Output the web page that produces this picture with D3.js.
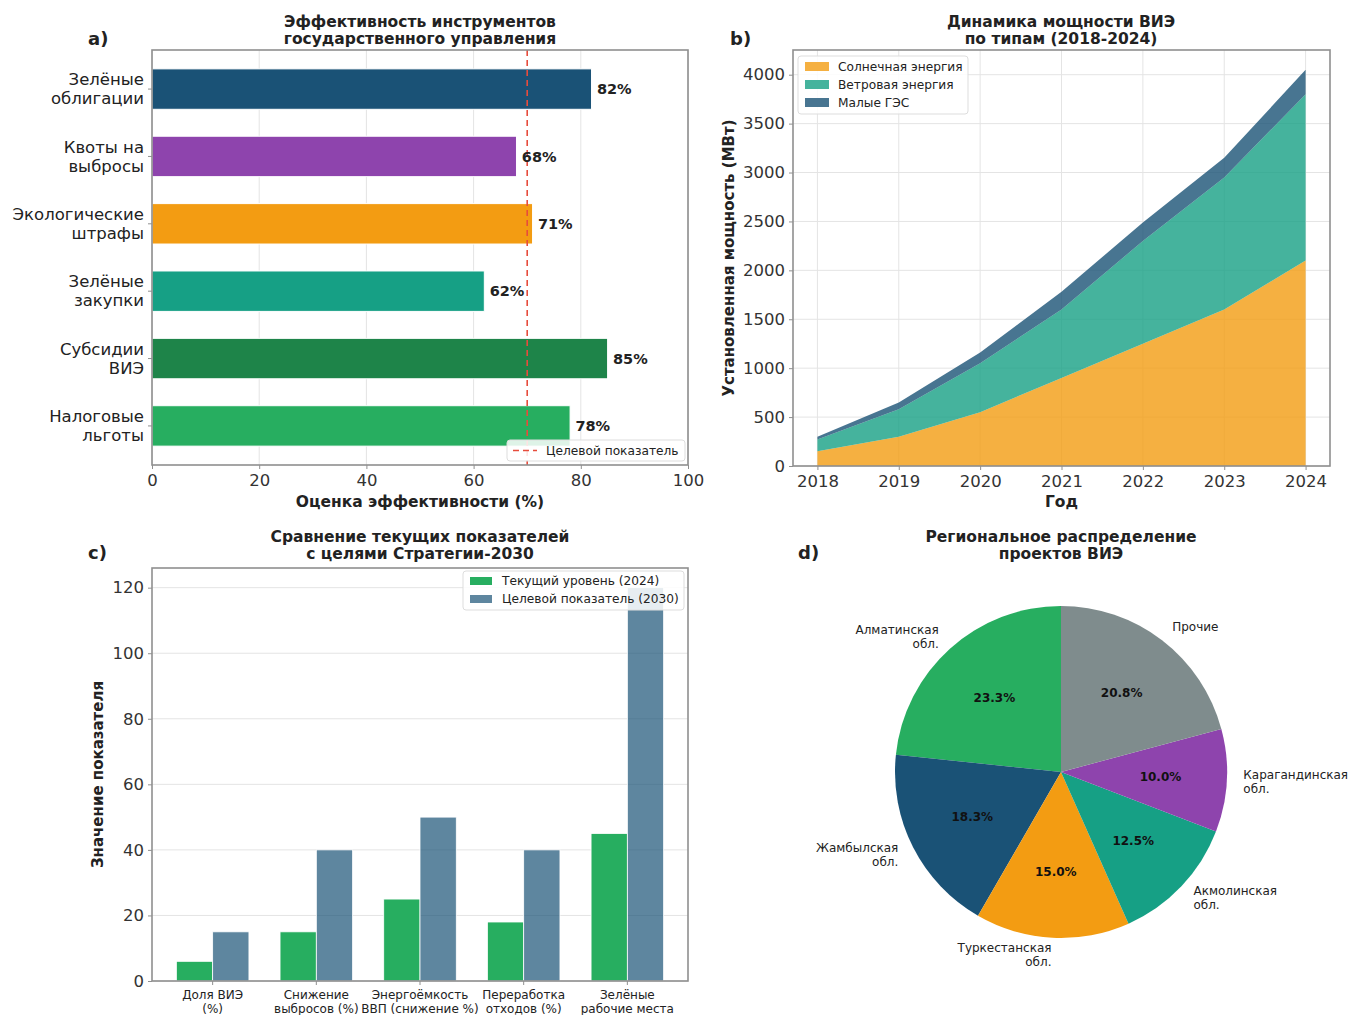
<!DOCTYPE html>
<html><head><meta charset="utf-8">
<script src="https://cdn.jsdelivr.net/npm/d3@7"></script>
<style>
body{margin:0;background:#fff;}
text{font-family:"DejaVu Sans",sans-serif;fill:#222;}
</style></head>
<body><svg id="c" width="1354" height="1015"></svg>
<script>
// ---------- DATA ----------
const instruments = ["Зелёные\nоблигации","Квоты на\nвыбросы","Экологические\nштрафы","Зелёные\nзакупки","Субсидии\nВИЭ","Налоговые\nльготы"];
const instrumentScores = [82,68,71,62,85,78];
const instrumentColors = ["#1a5276","#8e44ad","#f39c12","#16a085","#1e8449","#27ae60"];
const targetScore = 70;
const xTicksA = [0,20,40,60,80,100];

const years = [2018,2019,2020,2021,2022,2023,2024];
const solar = [150,300,550,900,1250,1600,2100];
const wind  = [120,280,500,700,1050,1350,1700];
const hydro = [30,70,110,180,190,200,250];
const seriesNames = ["Солнечная энергия","Ветровая энергия","Малые ГЭС"];
const seriesColors = ["#f39c12","#16a085","#1a5276"];
const yTicksB = [0,500,1000,1500,2000,2500,3000,3500,4000];

const indicators = ["Доля ВИЭ\n(%)","Снижение\nвыбросов (%)","Энергоёмкость\nВВП (снижение %)","Переработка\nотходов (%)","Зелёные\nрабочие места"];
const current2024 = [6,15,25,18,45];
const target2030 = [15,40,50,40,120];
const yTicksC = [0,20,40,60,80,100,120];

const regions = ["Алматинская\nобл.","Жамбылская\nобл.","Туркестанская\nобл.","Акмолинская\nобл.","Карагандинская\nобл.","Прочие"];
const regionProjects = [28,22,18,15,12,25];
const regionColors = ["#27ae60","#1a5276","#f39c12","#16a085","#8e44ad","#7f8c8d"];

// ---------- HELPERS ----------
const svg = d3.select("#c");
const SPINE = "#8f8f8f", GRID = "#e4e4e4";
const TICK = 16.5, TITLE = 15.5, LABEL = 15.5, LEG = 12.2;
function multiText(g, x, y, str, opts){
  const lines = str.split("\n");
  const lh = opts.lh || opts.size*1.2;
  const t = g.append("text").attr("x",x).attr("y",y)
    .attr("font-size",opts.size).attr("text-anchor",opts.anchor||"middle")
    .attr("font-weight",opts.weight||"normal");
  let off;
  if(opts.va==="center") off = -(lines.length-1)*lh/2;
  else if(opts.va==="top") off = 0;
  else off = -(lines.length-1)*lh;
  lines.forEach((l,i)=>t.append("tspan").attr("x",x).attr("y",y+off+i*lh).attr("dy", opts.va==="center"?"0.35em":(opts.va==="top"?"0.8em":0)).text(l));
  return t;
}
function frame(x0,y0,x1,y1){
  svg.append("rect").attr("x",x0).attr("y",y0).attr("width",x1-x0).attr("height",y1-y0)
    .attr("fill","none").attr("stroke",SPINE).attr("stroke-width",1.6);
}
function panelLabel(x,y,s){ svg.append("text").attr("x",x).attr("y",y).attr("font-size",18).attr("font-weight","bold").text(s); }

// ---------- PANEL A ----------
{
  const L=152,R=688,T=50,B=465;
  const x = d3.scaleLinear().domain([0,100]).range([L,R]);
  const y = d3.scaleLinear().domain([-0.58,5.58]).range([T,B]);
  const g = svg.append("g");
  g.selectAll(".gx").data(xTicksA).join("line").attr("x1",d=>x(d)).attr("x2",d=>x(d)).attr("y1",T).attr("y2",B).attr("stroke",GRID);
  g.selectAll(".bar").data(instrumentScores).join("rect")
    .attr("x",x(0)).attr("y",(d,i)=>y(i-0.3)).attr("width",d=>x(d)-x(0)).attr("height",y(0.6)-y(0))
    .attr("fill",(d,i)=>instrumentColors[i]).attr("stroke","#fff").attr("stroke-width",1);
  g.append("line").attr("x1",x(targetScore)).attr("x2",x(targetScore)).attr("y1",T).attr("y2",B)
    .attr("stroke","#e74c3c").attr("stroke-width",1.6).attr("stroke-dasharray","6,4");
  g.selectAll(".vl").data(instrumentScores).join("text").attr("x",d=>x(d+1)).attr("y",(d,i)=>y(i)).attr("dy","0.35em")
    .attr("font-size",14.5).attr("font-weight","bold").text(d=>d+"%");
  frame(L,T,R,B);
  const ax = g.append("g").attr("transform",`translate(0,${B})`).call(d3.axisBottom(x).tickValues(xTicksA).tickSize(4).tickPadding(5));
  ax.select(".domain").remove(); ax.selectAll("line").attr("stroke",SPINE);
  ax.selectAll("text").attr("font-size",TICK).style("fill","#333").attr("font-family","DejaVu Sans");
  instruments.forEach((s,i)=>{
    g.append("line").attr("x1",L-4).attr("x2",L).attr("y1",y(i)).attr("y2",y(i)).attr("stroke",SPINE);
    multiText(g,L-8,y(i),s,{size:TICK,anchor:"end",va:"center",lh:19});
  });
  multiText(g,(L+R)/2,507,"Оценка эффективности (%)",{size:LABEL,weight:"bold"});
  multiText(g,(L+R)/2,44,"Эффективность инструментов\nгосударственного управления",{size:TITLE,weight:"bold",lh:17});
  panelLabel(88,45,"a)");
  // legend
  const lg = g.append("g");
  lg.append("rect").attr("x",507).attr("y",440).attr("width",178).attr("height",21).attr("rx",3).attr("fill","#fff").attr("fill-opacity",0.85).attr("stroke","#ddd");
  lg.append("line").attr("x1",513).attr("x2",537).attr("y1",450.5).attr("y2",450.5).attr("stroke","#e74c3c").attr("stroke-width",1.6).attr("stroke-dasharray","6,4");
  lg.append("text").attr("x",546).attr("y",450.5).attr("dy","0.35em").attr("font-size",LEG).text("Целевой показатель");
}

// ---------- PANEL B ----------
{
  const L=793,R=1330,T=50,B=466;
  const x = d3.scaleLinear().domain([2017.7,2024.3]).range([L,R]);
  const y = d3.scaleLinear().domain([0,4252.5]).range([B,T]);
  const g = svg.append("g");
  g.selectAll(".gx").data(years).join("line").attr("x1",d=>x(d)).attr("x2",d=>x(d)).attr("y1",T).attr("y2",B).attr("stroke",GRID);
  g.selectAll(".gy").data(yTicksB).join("line").attr("x1",L).attr("x2",R).attr("y1",d=>y(d)).attr("y2",d=>y(d)).attr("stroke",GRID);
  const rows = years.map((yr,i)=>({year:yr,s0:solar[i],s1:wind[i],s2:hydro[i]}));
  const stack = d3.stack().keys(["s0","s1","s2"])(rows);
  const area = d3.area().x(d=>x(d.data.year)).y0(d=>y(d[0])).y1(d=>y(d[1]));
  g.selectAll(".ar").data(stack).join("path").attr("d",area).attr("fill",(d,i)=>seriesColors[i]).attr("fill-opacity",0.8);
  frame(L,T,R,B);
  const ax = g.append("g").attr("transform",`translate(0,${B})`).call(d3.axisBottom(x).tickValues(years).tickFormat(d3.format("d")).tickSize(4).tickPadding(5));
  ax.select(".domain").remove(); ax.selectAll("line").attr("stroke",SPINE);
  ax.selectAll("text").attr("font-size",TICK).style("fill","#333");
  const ay = g.append("g").attr("transform",`translate(${L},0)`).call(d3.axisLeft(y).tickValues(yTicksB).tickFormat(d3.format("d")).tickSize(4).tickPadding(4));
  ay.select(".domain").remove(); ay.selectAll("line").attr("stroke",SPINE);
  ay.selectAll("text").attr("font-size",TICK).style("fill","#333");
  multiText(g,(L+R)/2,507,"Год",{size:LABEL,weight:"bold"});
  g.append("text").attr("transform",`translate(734,${(T+B)/2}) rotate(-90)`).attr("text-anchor","middle").attr("font-size",15).attr("font-weight","bold").text("Установленная мощность (МВт)");
  multiText(g,1061,44,"Динамика мощности ВИЭ\nпо типам (2018-2024)",{size:TITLE,weight:"bold",lh:17});
  panelLabel(730,45,"b)");
  const lg = g.append("g");
  lg.append("rect").attr("x",798).attr("y",56).attr("width",170).attr("height",58).attr("rx",3).attr("fill","#fff").attr("fill-opacity",0.85).attr("stroke","#ddd");
  seriesNames.forEach((s,i)=>{
    lg.append("rect").attr("x",805).attr("y",62+i*18).attr("width",24).attr("height",9).attr("fill",seriesColors[i]).attr("fill-opacity",0.8);
    lg.append("text").attr("x",838).attr("y",67+i*18).attr("dy","0.35em").attr("font-size",LEG).text(s);
  });
}

// ---------- PANEL C ----------
{
  const L=152,R=688,T=568,B=981;
  const x = d3.scaleLinear().domain([-0.585,4.585]).range([L,R]);
  const y = d3.scaleLinear().domain([0,126]).range([B,T]);
  const g = svg.append("g");
  g.selectAll(".gy").data(yTicksC).join("line").attr("x1",L).attr("x2",R).attr("y1",d=>y(d)).attr("y2",d=>y(d)).attr("stroke",GRID);
  const w=0.35;
  g.selectAll(".b1").data(current2024).join("rect").attr("x",(d,i)=>x(i-w)).attr("y",d=>y(d)).attr("width",x(w)-x(0)).attr("height",d=>y(0)-y(d)).attr("fill","#27ae60").attr("stroke","#fff").attr("stroke-width",0.8);
  g.selectAll(".b2").data(target2030).join("rect").attr("x",(d,i)=>x(i)).attr("y",d=>y(d)).attr("width",x(w)-x(0)).attr("height",d=>y(0)-y(d)).attr("fill","#1a5276").attr("fill-opacity",0.7).attr("stroke","#fff").attr("stroke-width",0.8);
  frame(L,T,R,B);
  const ay = g.append("g").attr("transform",`translate(${L},0)`).call(d3.axisLeft(y).tickValues(yTicksC).tickSize(4).tickPadding(4));
  ay.select(".domain").remove(); ay.selectAll("line").attr("stroke",SPINE);
  ay.selectAll("text").attr("font-size",TICK).style("fill","#333");
  indicators.forEach((s,i)=>{
    g.append("line").attr("x1",x(i)).attr("x2",x(i)).attr("y1",B).attr("y2",B+4).attr("stroke",SPINE);
    multiText(g,x(i),B+8,s,{size:12,va:"top",lh:14});
  });
  g.append("text").attr("transform",`translate(103,${(T+B)/2}) rotate(-90)`).attr("text-anchor","middle").attr("font-size",15).attr("font-weight","bold").text("Значение показателя");
  multiText(g,(L+R)/2,559,"Сравнение текущих показателей\nс целями Стратегии-2030",{size:TITLE,weight:"bold",lh:17});
  panelLabel(88,559,"c)");
  const lg = g.append("g");
  lg.append("rect").attr("x",463).attr("y",571).attr("width",221).attr("height",39).attr("rx",3).attr("fill","#fff").attr("fill-opacity",0.85).attr("stroke","#ddd");
  [["#27ae60",1,"Текущий уровень (2024)"],["#1a5276",0.7,"Целевой показатель (2030)"]].forEach((e,i)=>{
    lg.append("rect").attr("x",470).attr("y",577+i*18).attr("width",22).attr("height",8).attr("fill",e[0]).attr("fill-opacity",e[1]);
    lg.append("text").attr("x",502).attr("y",581+i*18).attr("dy","0.35em").attr("font-size",LEG).text(e[2]);
  });
}

// ---------- PANEL D ----------
{
  const cx=1061, cy=772, r=166;
  const g = svg.append("g").attr("transform",`translate(${cx},${cy})`);
  const pie = d3.pie().sort(null).startAngle(0).endAngle(-2*Math.PI);
  const arcs = pie(regionProjects);
  const total = d3.sum(regionProjects);
  const arc = d3.arc().innerRadius(0).outerRadius(r);
  g.selectAll("path").data(arcs).join("path").attr("d",arc).attr("fill",(d,i)=>regionColors[i]);
  arcs.forEach((a,i)=>{
    const m=(a.startAngle+a.endAngle)/2;
    const sx=Math.sin(m), sy=-Math.cos(m);
    g.append("text").attr("x",sx*r*0.6).attr("y",sy*r*0.6).attr("dy","0.35em").attr("text-anchor","middle")
      .attr("font-size",12).attr("font-weight","bold").style("fill","#111").text((a.data/total*100).toFixed(1)+"%");
    multiText(g,sx*r*1.1,sy*r*1.1,regions[i],{size:12,anchor:sx>0?"start":"end",va:"center",lh:14});
  });
  multiText(svg,1061,559,"Региональное распределение\nпроектов ВИЭ",{size:TITLE,weight:"bold",lh:17});
  panelLabel(798,559,"d)");
}
</script></body></html>
